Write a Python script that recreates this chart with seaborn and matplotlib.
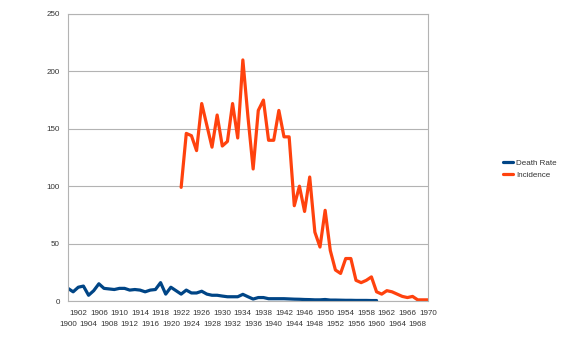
import matplotlib
matplotlib.use("Agg")
import matplotlib.pyplot as plt
import seaborn as sns
import pandas as pd

# ---- data ----
death_years = list(range(1900, 1961))
death_rate = [11, 8, 12, 13, 5, 9, 15, 11, 10.5, 10,
              11, 11, 9.5, 10, 9.5, 8, 9.5, 10, 16, 6,
              12, 9, 6, 9.5, 7, 7, 8.5, 6, 5, 5,
              4.3, 3.7, 3.7, 3.7, 5.8, 3.7, 1.7, 3, 3, 2,
              2, 2, 2, 1.8, 1.6, 1.5, 1.3, 1.2, 1, 1,
              1.3, 0.8, 0.8, 0.7, 0.6, 0.6, 0.5, 0.5, 0.5, 0.4,
              0.4]
inc_years = list(range(1922, 1971))
incidence = [99, 146, 144, 131, 172, 153, 134, 162, 135, 139,
             172, 142, 210, 160, 115, 166, 175, 140, 140, 166,
             143, 143, 83, 100, 78, 108, 60, 47, 79, 44,
             27, 24, 37, 37, 18, 16, 18, 21, 8, 6,
             9, 8, 6, 4, 3, 4, 1, 1, 1]
series_names = ["Death Rate", "Incidence"]
y_ticks = [0, 50, 100, 150, 200, 250]
top_row_years = list(range(1902, 1971, 4))      # upper label row
bottom_row_years = list(range(1900, 1969, 4))   # lower label row

df_death = pd.DataFrame({"year": death_years, "value": death_rate})
df_inc = pd.DataFrame({"year": inc_years, "value": incidence})

sns.set_style("white")
plt.rcParams["font.family"] = ["Liberation Sans", "DejaVu Sans"]

W, H = 570, 342
fig = plt.figure(figsize=(W / 100, H / 100), dpi=100)
ax = fig.add_axes([68 / W, 1 - 301 / H, (428 - 68) / W, (301 - 14) / H])

grid_c = "#b3b3b3"
txt_c = "#333333"
fs = 5.8

sns.lineplot(data=df_death, x="year", y="value", ax=ax, color="#004586",
             linewidth=2.3, label=series_names[0])
sns.lineplot(data=df_inc, x="year", y="value", ax=ax, color="#ff420e",
             linewidth=2.3, label=series_names[1])

ax.set_xlim(1900, 1970)
ax.set_ylim(0, 250)
ax.set_xlabel("")
ax.set_ylabel("")

ax.set_yticks(y_ticks)
ax.set_yticklabels([str(v) for v in y_ticks])
ax.yaxis.grid(True, color=grid_c, linewidth=0.8)
ax.set_axisbelow(True)

# major ticks = upper row labels; minor ticks = every other year, lower row labels
ax.set_xticks(top_row_years)
ax.set_xticklabels([str(y) for y in top_row_years])
minor_pos = [y for y in range(1900, 1971) if y not in top_row_years]
minor_lab = [str(y) if y in bottom_row_years else "" for y in minor_pos]
ax.set_xticks(minor_pos, minor=True)
ax.set_xticklabels(minor_lab, minor=True)

ax.tick_params(axis="both", which="both", direction="out", length=3,
               width=0.8, color=grid_c, labelsize=fs, labelcolor=txt_c)
ax.tick_params(axis="x", which="major", pad=3.5)
ax.tick_params(axis="x", which="minor", pad=11.5)
ax.tick_params(axis="y", which="major", pad=3)

for s in ax.spines.values():
    s.set_color(grid_c)
    s.set_linewidth(0.8)
    s.set_visible(True)

ax.get_legend().remove()
handles, labs = ax.get_legend_handles_labels()
fig.legend(handles, labs, loc="center left",
           bbox_to_anchor=(503 / W, 1 - 169 / H), frameon=False,
           fontsize=fs, handlelength=1.3, handletextpad=0.3,
           borderpad=0, borderaxespad=0, labelspacing=0.5,
           labelcolor=txt_c)

fig.savefig("out.png", dpi=100, facecolor="white")
